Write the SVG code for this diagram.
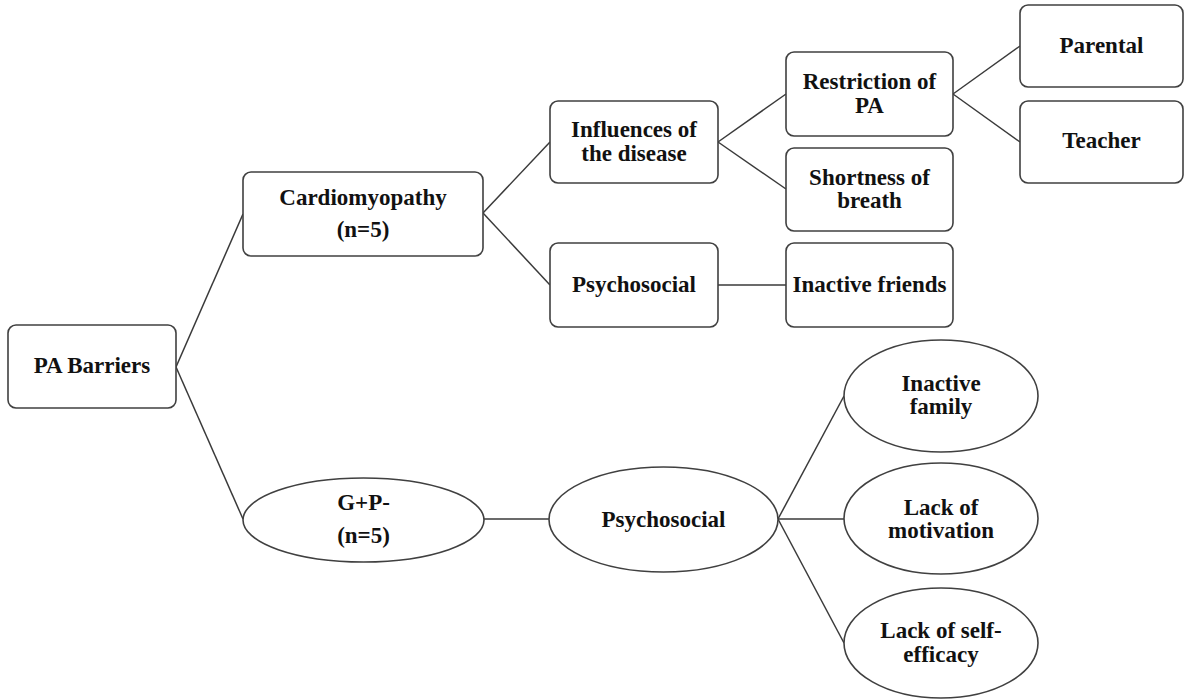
<svg xmlns="http://www.w3.org/2000/svg" width="1185" height="700" viewBox="0 0 1185 700">
<style>
.box{fill:#ffffff;stroke:#404040;stroke-width:1.6}
.el{fill:#ffffff;stroke:#404040;stroke-width:1.6}
.ln{stroke:#3a3a3a;stroke-width:1.5;fill:none}
.t{font-family:"Liberation Serif","Times New Roman",serif;font-weight:bold;font-size:23px;fill:#111;text-anchor:middle}
</style>
<rect x="0" y="0" width="1185" height="700" fill="#ffffff"/>
<g id="connectors">
<line class="ln" x1="176" y1="367" x2="243" y2="214"/>
<line class="ln" x1="176" y1="367" x2="243" y2="519"/>
<line class="ln" x1="483" y1="213" x2="550" y2="142"/>
<line class="ln" x1="483" y1="213" x2="550" y2="285"/>
<line class="ln" x1="718" y1="142" x2="786" y2="94"/>
<line class="ln" x1="718" y1="142" x2="786" y2="189"/>
<line class="ln" x1="718" y1="285" x2="786" y2="285"/>
<line class="ln" x1="953" y1="94" x2="1020" y2="46"/>
<line class="ln" x1="953" y1="94" x2="1020" y2="142"/>
<line class="ln" x1="484" y1="519" x2="549" y2="519"/>
<line class="ln" x1="778" y1="519" x2="844" y2="396"/>
<line class="ln" x1="778" y1="519" x2="844" y2="519"/>
<line class="ln" x1="778" y1="519" x2="844" y2="643"/>
</g>
<g id="pa-barriers">
<rect class="box" x="8" y="325" width="168" height="83" rx="8"/>
<text class="t" x="92" y="373">PA Barriers</text>
</g>
<g id="cardiomyopathy">
<rect class="box" x="243" y="172" width="240" height="84" rx="8"/>
<text class="t" x="363" y="205">Cardiomyopathy</text>
<text class="t" x="363" y="237">(n=5)</text>
</g>
<g id="influences">
<rect class="box" x="550" y="101" width="168" height="82" rx="8"/>
<text class="t" x="634" y="137">Influences of</text>
<text class="t" x="634" y="161">the disease</text>
</g>
<g id="psychosocial-box">
<rect class="box" x="550" y="243" width="168" height="84" rx="8"/>
<text class="t" x="634" y="292">Psychosocial</text>
</g>
<g id="restriction">
<rect class="box" x="786" y="52" width="167" height="84" rx="8"/>
<text class="t" x="869.5" y="89">Restriction of</text>
<text class="t" x="869.5" y="113">PA</text>
</g>
<g id="shortness">
<rect class="box" x="786" y="148" width="167" height="83" rx="8"/>
<text class="t" x="869.5" y="185">Shortness of</text>
<text class="t" x="869.5" y="208">breath</text>
</g>
<g id="inactive-friends">
<rect class="box" x="786" y="243" width="167" height="84" rx="8"/>
<text class="t" x="869.5" y="292">Inactive friends</text>
</g>
<g id="parental">
<rect class="box" x="1020" y="5" width="163" height="82" rx="8"/>
<text class="t" x="1101.5" y="53">Parental</text>
</g>
<g id="teacher">
<rect class="box" x="1020" y="101" width="163" height="82" rx="8"/>
<text class="t" x="1101.5" y="148">Teacher</text>
</g>
<g id="gp">
<ellipse class="el" cx="363.5" cy="520" rx="120.5" ry="42"/>
<text class="t" x="363.5" y="510">G+P-</text>
<text class="t" x="363.5" y="543">(n=5)</text>
</g>
<g id="psychosocial-ellipse">
<ellipse class="el" cx="663.5" cy="519.5" rx="114.5" ry="52.5"/>
<text class="t" x="663.5" y="527">Psychosocial</text>
</g>
<g id="inactive-family">
<ellipse class="el" cx="941" cy="396" rx="97" ry="56"/>
<text class="t" x="941" y="391">Inactive</text>
<text class="t" x="941" y="414">family</text>
</g>
<g id="lack-motivation">
<ellipse class="el" cx="941" cy="518.5" rx="97" ry="55.5"/>
<text class="t" x="941" y="515">Lack of</text>
<text class="t" x="941" y="538">motivation</text>
</g>
<g id="lack-self-efficacy">
<ellipse class="el" cx="941" cy="643" rx="97" ry="55"/>
<text class="t" x="941" y="638">Lack of self-</text>
<text class="t" x="941" y="662">efficacy</text>
</g>
</svg>
